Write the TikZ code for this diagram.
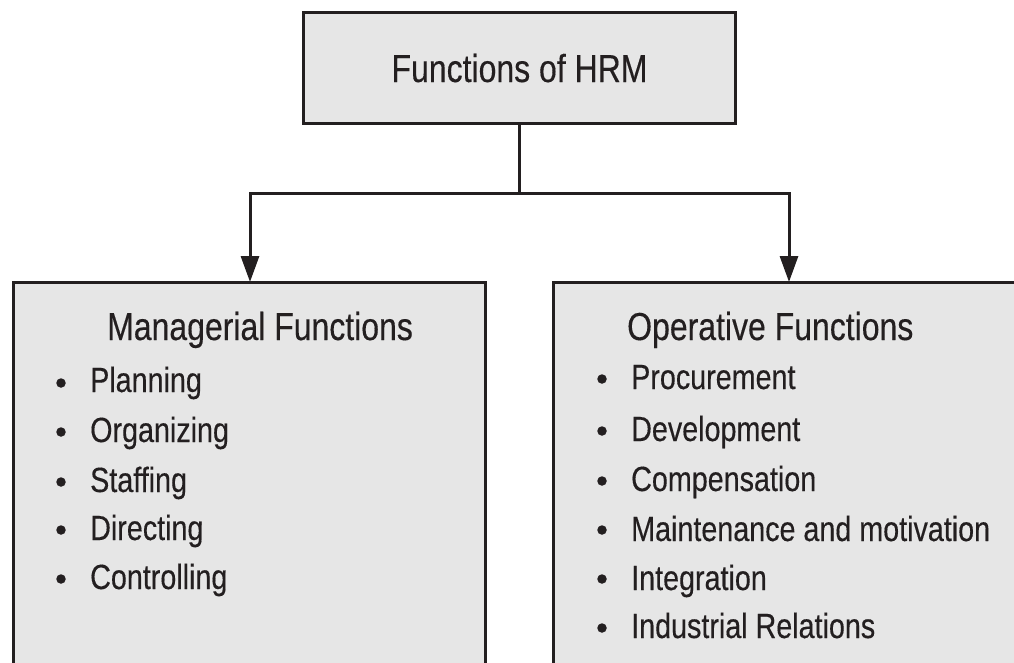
\documentclass[tikz,border=0pt]{standalone}
\usepackage{fontspec}
\setmainfont{Liberation Sans}[FakeStretch=0.82,FakeBold=0.3]
\usetikzlibrary{arrows.meta}
\definecolor{boxfill}{HTML}{E6E6E6}
\definecolor{ink}{HTML}{231F20}
\tikzset{
  box/.style={draw=ink, line width=3pt, fill=boxfill, inner sep=0pt, outer sep=0pt},
  conn/.style={draw=ink, line width=3pt, -{Triangle[length=26pt,width=18pt]}},
  plainconn/.style={draw=ink, line width=3pt},
  headtext/.style={font=\fontsize{39}{44}\selectfont, text=ink, anchor=base west, inner sep=0pt},
  itemtext/.style={font=\fontsize{35}{40}\selectfont, text=ink, anchor=base west, inner sep=0pt},
  dot/.style={circle, fill=ink, minimum size=9.5pt, inner sep=0pt},
}
\begin{document}
\begin{tikzpicture}[x=1pt,y=-1pt]
\useasboundingbox (0,0) rectangle (1014,662);
\clip (0,0) rectangle (1014,662);
% boxes
\node[box, minimum width=432pt, minimum height=111pt, anchor=north west] (top) at (303.5,12.5) {};
\node[box, minimum width=471.5pt, minimum height=440pt, anchor=north west] (mgr) at (13.5,282) {};
\node[box, minimum width=480pt, minimum height=440pt, anchor=north west] (opr) at (553.5,282) {};
% title
\node[headtext, anchor=base] (title) at (519.5,82) {Functions of HRM};
% connectors
\draw[plainconn] (top.south) -- ++(0,70) coordinate (j);
\draw[conn] (j) -| ([xshift=236.5pt]mgr.north west);
\draw[conn] (j) -| ([xshift=235.5pt]opr.north west);
% managerial
\node[headtext] (mh) at (107,340) {Managerial Functions};
\node[itemtext] (m1) at (90,392) {Planning};
\node[itemtext] (m2) at (90,442) {Organizing};
\node[itemtext] (m3) at (90,492) {Staffing};
\node[itemtext] (m4) at (90,540) {Directing};
\node[itemtext] (m5) at (90,589) {Controlling};
\node[dot] (md1) at (61,383) {};
\node[dot] (md2) at (61,432) {};
\node[dot] (md3) at (61,482) {};
\node[dot] (md4) at (61,530) {};
\node[dot] (md5) at (61,579) {};
% operative
\node[headtext] (oh) at (627,340) {Operative Functions};
\node[itemtext] (o1) at (631,389) {Procurement};
\node[itemtext] (o2) at (631,441) {Development};
\node[itemtext] (o3) at (631,491) {Compensation};
\node[itemtext] (o4) at (631,541) {Maintenance and motivation};
\node[itemtext] (o5) at (631,590) {Integration};
\node[itemtext] (o6) at (631,638) {Industrial Relations};
\node[dot] (od1) at (602,379) {};
\node[dot] (od2) at (602,431) {};
\node[dot] (od3) at (602,481) {};
\node[dot] (od4) at (602,530) {};
\node[dot] (od5) at (602,579) {};
\node[dot] (od6) at (602,628) {};
\end{tikzpicture}
\end{document}
